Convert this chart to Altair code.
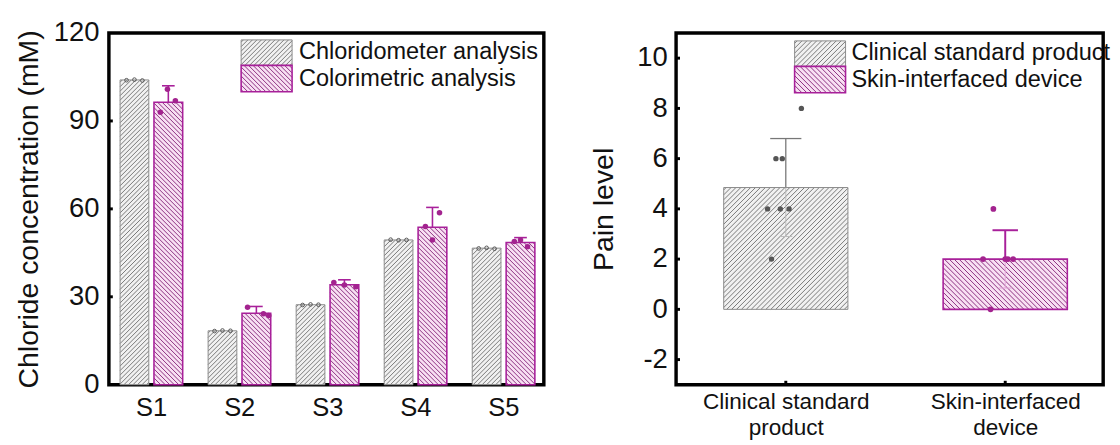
import altair as alt
import pandas as pd

FONT = "Liberation Sans, Arial, sans-serif"

# ---------------- data ----------------
samples = ["S1", "S2", "S3", "S4", "S5"]
chlorido_mean = [104.0, 18.4, 27.3, 49.4, 46.6]
colori_mean = [96.4, 24.4, 34.1, 53.7, 48.5]
colori_err = [5.6, 2.3, 1.7, 6.8, 1.7]
chlorido_pts = [[103.9, 104.1, 103.8], [18.3, 18.5, 18.4], [27.2, 27.4, 27.3],
                [49.5, 49.3, 49.4], [46.5, 46.7, 46.4]]
chlorido_jit = [-0.09, 0.0, 0.09]
colori_pts = [[100.8, 96.9, 93.0], [26.4, 24.2, 23.6], [34.9, 34.0, 33.4],
              [58.7, 54.0, 49.4], [49.4, 47.1, 48.9]]
colori_jit = [[-0.01, 0.08, -0.09], [-0.1, 0.08, 0.14], [-0.12, 0.0, 0.13],
              [0.08, -0.08, 0.0], [0.0, 0.08, -0.07]]
left_series = ["Chloridometer analysis", "Colorimetric analysis"]
left_yticks = [0, 30, 60, 90, 120]

groups = ["Clinical standard product", "Skin-interfaced device"]
pain_mean = [4.85, 2.0]
pain_sd = [1.95, 1.15]
clin_pts = [8, 6, 6, 4, 4, 4, 2]
clin_jit = [0.071, -0.045, -0.016, -0.083, -0.025, 0.015, -0.065]
skin_pts = [4, 2, 2, 2, 2, 0]
skin_jit = [-0.054, -0.101, 0.0, 0.012, 0.036, -0.067]
right_yticks = [-2, 0, 2, 4, 6, 8, 10]

# ---------------- geometry / styles ----------------
L_XD = [0.52, 5.46]; L_YD = [0, 120]; L_W = 444; L_H = 359
R_XD = [0.5, 2.4464]; R_YD = [-3, 11]; R_W = 436; R_H = 359
LKX = L_W / (L_XD[1] - L_XD[0]); LKY = L_H / (L_YD[1] - L_YD[0])
RKX = R_W / (R_XD[1] - R_XD[0]); RKY = R_H / (R_YD[1] - R_YD[0])

GRAY_FILL, GRAY_LINE, GRAY_STROKE = "#f1f1f1", "#6a6a6a", "#8a8a8a"
PINK_FILL, PINK_LINE, PINK_STROKE = "#f8e0f3", "#7d1a72", "#a8209a"


def hatch(xa, xb, ya, yb, kx, ky, step, kind):
    W = (xb - xa) * kx
    H = (yb - ya) * ky
    segs = []
    if kind == "/":
        c = -H + step / 2
        while c < W:
            lo = max(0.0, c); hi = min(W, H + c)
            if hi - lo > 0.6:
                segs.append((xa + lo / kx, ya + (lo - c) / ky, xa + hi / kx, ya + (hi - c) / ky))
            c += step
    else:
        c = step / 2
        while c < W + H:
            lo = max(0.0, c - H); hi = min(W, c)
            if hi - lo > 0.6:
                segs.append((xa + lo / kx, ya + (c - lo) / ky, xa + hi / kx, ya + (c - hi) / ky))
            c += step
    return segs


def seg_df(segs):
    return pd.DataFrame(segs, columns=["x", "y", "x2", "y2"])


# ---------------- left panel ----------------
def LX(field):
    return alt.X(field, type="quantitative",
                 scale=alt.Scale(domain=L_XD, nice=False, zero=False),
                 axis=alt.Axis(values=[1, 2, 3, 4, 5], labelExpr="'S' + datum.value",
                               ticks=False, domain=False, grid=False, labelFontSize=26,
                               labelPadding=10, title=None, labelColor="#111", labelFont=FONT))


def LY(field):
    return alt.Y(field, type="quantitative",
                 scale=alt.Scale(domain=L_YD, nice=False, zero=False),
                 axis=alt.Axis(values=left_yticks, ticks=False, domain=False, grid=False,
                               labelFontSize=28, labelPadding=10, labelColor="#111", labelFont=FONT,
                               title="Chloride concentration (mM)", titleFontSize=29,
                               titlePadding=10, titleFontWeight="normal", titleColor="#111",
                               titleFont=FONT))


GOFF, POFF, HALF = -0.19, 0.195, 0.163
gray_rects, pink_rects = [], []
gray_h, pink_h = [], []
for i, s in enumerate(samples):
    c = i + 1
    gx0, gx1 = c + GOFF - HALF, c + GOFF + HALF
    px0, px1 = c + POFF - HALF, c + POFF + HALF
    gray_rects.append(dict(x=gx0, x2=gx1, y=0, y2=chlorido_mean[i]))
    pink_rects.append(dict(x=px0, x2=px1, y=0, y2=colori_mean[i]))
    gray_h += hatch(gx0, gx1, 0, chlorido_mean[i], LKX, LKY, 4.6, "/")
    pink_h += hatch(px0, px1, 0, colori_mean[i], LKX, LKY, 4.6, "\\")


def lpx(px):
    return L_XD[0] + px / LKX
def lpy(py):
    return L_YD[1] - py / LKY

lg = dict(x=lpx(135), x2=lpx(187), y=lpy(33), y2=lpy(7))
lp = dict(x=lpx(135), x2=lpx(187), y=lpy(60), y2=lpy(33))
gray_rects.append(lg); pink_rects.append(lp)
gray_h += hatch(lg["x"], lg["x2"], lg["y"], lg["y2"], LKX, LKY, 4.6, "/")
pink_h += hatch(lp["x"], lp["x2"], lp["y"], lp["y2"], LKX, LKY, 4.6, "\\")

g_df = pd.DataFrame(gray_rects); p_df = pd.DataFrame(pink_rects)

err_rows, cap_rows = [], []
for i in range(5):
    c = i + 1 + POFF
    top = colori_mean[i] + colori_err[i]
    err_rows.append(dict(x=c, y=colori_mean[i], y2=top))
    cap_rows.append(dict(x=c - 0.072, x2=c + 0.072, y=top))
err_df = pd.DataFrame(err_rows); cap_df = pd.DataFrame(cap_rows)

gpts = pd.DataFrame([dict(x=i + 1 + GOFF + chlorido_jit[j], y=chlorido_pts[i][j])
                     for i in range(5) for j in range(3)])
ppts = pd.DataFrame([dict(x=i + 1 + POFF + colori_jit[i][j], y=colori_pts[i][j])
                     for i in range(5) for j in range(3)])
ltext = pd.DataFrame([dict(x=lpx(194), y=lpy(20), t=left_series[0]),
                      dict(x=lpx(194), y=lpy(47), t=left_series[1])])
ltick_df = pd.DataFrame({"y": left_yticks[1:-1]})

left = alt.layer(
    alt.Chart(g_df).mark_rect(fill=GRAY_FILL).encode(x=LX("x"), x2="x2", y=LY("y"), y2="y2"),
    alt.Chart(p_df).mark_rect(fill=PINK_FILL).encode(x=LX("x"), x2="x2", y=LY("y"), y2="y2"),
    alt.Chart(seg_df(gray_h)).mark_rule(color=GRAY_LINE, strokeWidth=0.9).encode(
        x=LX("x"), x2="x2", y=LY("y"), y2="y2"),
    alt.Chart(seg_df(pink_h)).mark_rule(color=PINK_LINE, strokeWidth=0.9).encode(
        x=LX("x"), x2="x2", y=LY("y"), y2="y2"),
    alt.Chart(g_df).mark_rect(fill=None, stroke=GRAY_STROKE, strokeWidth=1).encode(
        x=LX("x"), x2="x2", y=LY("y"), y2="y2"),
    alt.Chart(p_df).mark_rect(fill=None, stroke=PINK_STROKE, strokeWidth=1.6).encode(
        x=LX("x"), x2="x2", y=LY("y"), y2="y2"),
    alt.Chart(err_df).mark_rule(color=PINK_STROKE, strokeWidth=1.6).encode(
        x=LX("x"), y=LY("y"), y2="y2"),
    alt.Chart(cap_df).mark_rule(color=PINK_STROKE, strokeWidth=1.6).encode(
        x=LX("x"), x2="x2", y=LY("y")),
    alt.Chart(gpts).mark_point(shape="circle", filled=False, color="#555555", size=14,
                               strokeWidth=1, opacity=1).encode(x=LX("x"), y=LY("y")),
    alt.Chart(ppts).mark_circle(color="#a3238f", size=32, opacity=1).encode(
        x=LX("x"), y=LY("y")),
    alt.Chart(ltick_df).mark_rule(color="#000000", strokeWidth=3).encode(
        x=alt.value(0), x2=alt.value(4), y=LY("y")),
    alt.Chart(ltext).mark_text(align="left", baseline="middle", fontSize=24, font=FONT,
                               color="#111").encode(x=LX("x"), y=LY("y"), text="t:N"),
).properties(width=L_W, height=L_H)

# ---------------- right panel ----------------
def RXe(field):
    return alt.X(field, type="quantitative",
                 scale=alt.Scale(domain=R_XD, nice=False, zero=False),
                 axis=alt.Axis(values=[1, 2],
                               labelExpr="datum.value == 1 ? ['Clinical standard', 'product'] : ['Skin-interfaced', 'device']",
                               ticks=False, domain=False, grid=False, labelFontSize=23,
                               labelLineHeight=27, labelPadding=6, title=None,
                               labelColor="#111", labelFont=FONT))


def RYe(field):
    return alt.Y(field, type="quantitative",
                 scale=alt.Scale(domain=R_YD, nice=False, zero=False),
                 axis=alt.Axis(values=right_yticks, ticks=False, domain=False,
                               labelExpr="datum.value < 0 ? '-' + abs(datum.value) : '' + datum.value",
                               grid=False, labelFontSize=28, labelPadding=9, labelColor="#111",
                               labelFont=FONT, title="Pain level", titleFontSize=29,
                               titlePadding=19, titleFontWeight="normal", titleColor="#111",
                               titleFont=FONT))


RHALF = 0.283
rg = dict(x=1 - RHALF, x2=1 + RHALF, y=0, y2=pain_mean[0])
rp = dict(x=2 - RHALF, x2=2 + RHALF, y=0, y2=pain_mean[1])


def rpx(px):
    return R_XD[0] + px / RKX
def rpy(py):
    return R_YD[1] - py / RKY

rlg = dict(x=rpx(121), x2=rpx(173), y=rpy(34), y2=rpy(8))
rlp = dict(x=rpx(121), x2=rpx(173), y=rpy(61), y2=rpy(34))
rg_df = pd.DataFrame([rg, rlg]); rp_df = pd.DataFrame([rp, rlp])
rg_h = []; rp_h = []
for r in [rg, rlg]:
    rg_h += hatch(r["x"], r["x2"], r["y"], r["y2"], RKX, RKY, 5.0, "/")
for r in [rp, rlp]:
    rp_h += hatch(r["x"], r["x2"], r["y"], r["y2"], RKX, RKY, 5.0, "\\")

up_df = pd.DataFrame([dict(x=1, y=pain_mean[0], y2=pain_mean[0] + pain_sd[0])])
upcap_df = pd.DataFrame([dict(x=1 - 0.071, x2=1 + 0.071, y=pain_mean[0] + pain_sd[0])])
lo_df = pd.DataFrame([dict(x=1, y=pain_mean[0], y2=pain_mean[0] - pain_sd[0])])
locap_df = pd.DataFrame([dict(x=1 - 0.03, x2=1 + 0.03, y=pain_mean[0] - pain_sd[0])])
up2_df = pd.DataFrame([dict(x=2, y=pain_mean[1], y2=pain_mean[1] + pain_sd[1])])
upcap2_df = pd.DataFrame([dict(x=2 - 0.058, x2=2 + 0.058, y=pain_mean[1] + pain_sd[1])])
lo2_df = pd.DataFrame([dict(x=2, y=pain_mean[1], y2=pain_mean[1] - pain_sd[1])])
locap2_df = pd.DataFrame([dict(x=2 - 0.03, x2=2 + 0.03, y=pain_mean[1] - pain_sd[1])])

cpts = pd.DataFrame([dict(x=1 + j, y=v) for v, j in zip(clin_pts, clin_jit)])
spts = pd.DataFrame([dict(x=2 + j, y=v) for v, j in zip(skin_pts, skin_jit)])
rtext = pd.DataFrame([dict(x=rpx(179), y=rpy(21), t=groups[0]),
                      dict(x=rpx(179), y=rpy(48), t=groups[1])])
rytick_df = pd.DataFrame({"y": right_yticks})
rxtick_df = pd.DataFrame({"x": [1, 2]})

right = alt.layer(
    alt.Chart(rg_df).mark_rect(fill=GRAY_FILL).encode(x=RXe("x"), x2="x2", y=RYe("y"), y2="y2"),
    alt.Chart(rp_df).mark_rect(fill=PINK_FILL).encode(x=RXe("x"), x2="x2", y=RYe("y"), y2="y2"),
    alt.Chart(seg_df(rg_h)).mark_rule(color=GRAY_LINE, strokeWidth=0.9).encode(
        x=RXe("x"), x2="x2", y=RYe("y"), y2="y2"),
    alt.Chart(seg_df(rp_h)).mark_rule(color=PINK_LINE, strokeWidth=0.9).encode(
        x=RXe("x"), x2="x2", y=RYe("y"), y2="y2"),
    alt.Chart(rg_df).mark_rect(fill=None, stroke=GRAY_STROKE, strokeWidth=1).encode(
        x=RXe("x"), x2="x2", y=RYe("y"), y2="y2"),
    alt.Chart(rp_df).mark_rect(fill=None, stroke=PINK_STROKE, strokeWidth=1.6).encode(
        x=RXe("x"), x2="x2", y=RYe("y"), y2="y2"),
    alt.Chart(lo_df).mark_rule(color="#bbbbbb", strokeWidth=1).encode(x=RXe("x"), y=RYe("y"), y2="y2"),
    alt.Chart(locap_df).mark_rule(color="#bbbbbb", strokeWidth=1).encode(x=RXe("x"), x2="x2", y=RYe("y")),
    alt.Chart(lo2_df).mark_rule(color="#e2a6d8", strokeWidth=1).encode(x=RXe("x"), y=RYe("y"), y2="y2"),
    alt.Chart(locap2_df).mark_rule(color="#e2a6d8", strokeWidth=1).encode(x=RXe("x"), x2="x2", y=RYe("y")),
    alt.Chart(up_df).mark_rule(color="#777777", strokeWidth=1.3).encode(x=RXe("x"), y=RYe("y"), y2="y2"),
    alt.Chart(upcap_df).mark_rule(color="#777777", strokeWidth=1.3).encode(x=RXe("x"), x2="x2", y=RYe("y")),
    alt.Chart(up2_df).mark_rule(color=PINK_STROKE, strokeWidth=2).encode(x=RXe("x"), y=RYe("y"), y2="y2"),
    alt.Chart(upcap2_df).mark_rule(color=PINK_STROKE, strokeWidth=2).encode(x=RXe("x"), x2="x2", y=RYe("y")),
    alt.Chart(cpts).mark_circle(color="#555555", size=30, opacity=1).encode(x=RXe("x"), y=RYe("y")),
    alt.Chart(spts).mark_circle(color="#a3238f", size=34, opacity=1).encode(x=RXe("x"), y=RYe("y")),
    alt.Chart(rytick_df).mark_rule(color="#000000", strokeWidth=3).encode(
        x=alt.value(0), x2=alt.value(4), y=RYe("y")),
    alt.Chart(rxtick_df).mark_rule(color="#000000", strokeWidth=3).encode(
        x=RXe("x"), y=alt.value(R_H), y2=alt.value(R_H - 4)),
    alt.Chart(rtext).mark_text(align="left", baseline="middle", fontSize=24, font=FONT,
                               color="#111").encode(x=RXe("x"), y=RYe("y"), text="t:N"),
).properties(width=R_W, height=R_H)

chart = alt.hconcat(left, right, spacing=43).properties(
    padding={"left": 5, "top": 5, "right": 0, "bottom": 0},
    background="white",
).configure_view(stroke="#000000", strokeWidth=3.5)

chart.save("out.html", embed_options={"renderer": "svg", "actions": False})
